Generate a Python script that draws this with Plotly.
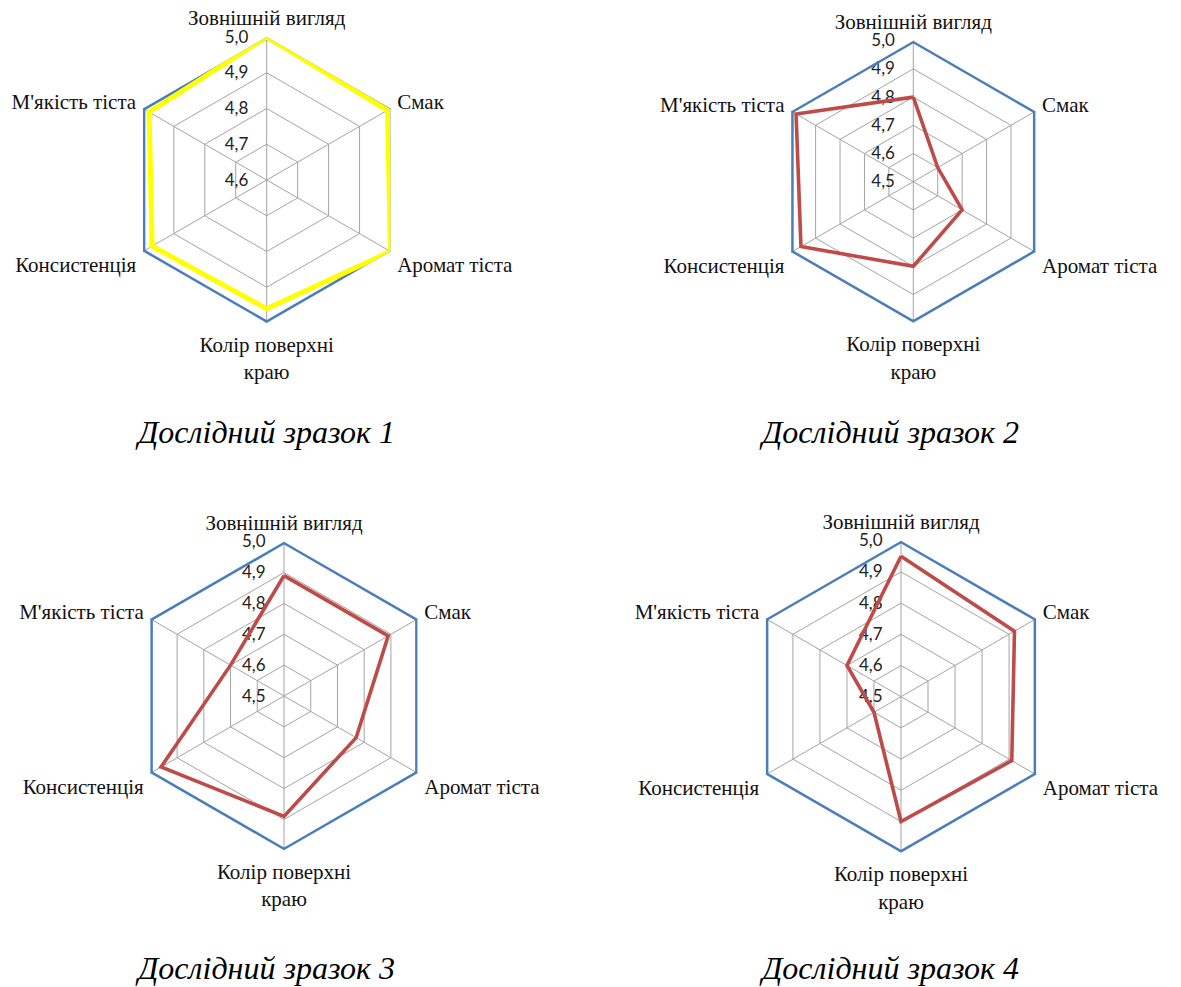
import plotly.graph_objects as go

# Organoleptic criteria (angular categories)
categories = ["Зовнішній вигляд", "Смак", "Аромат тіста",
              "Колір поверхні<br>краю", "Консистенція", "М'якість тіста"]

# Maximum score series (outer hexagon)
max_score = [5.0, 5.0, 5.0, 5.0, 5.0, 5.0]

# Scores of the experimental samples
sample1 = [5.0, 4.99, 5.0, 4.96, 4.97, 4.98]
sample2 = [4.8, 4.6, 4.7, 4.8, 4.96, 4.98]
sample3 = [4.89, 4.89, 4.77, 4.89, 4.96, 4.70]
sample4 = [4.95, 4.92, 4.91, 4.90, 4.60, 4.70]

# Radial ticks
ticks_a = [4.6, 4.7, 4.8, 4.9, 5.0]
ticks_b = [4.5, 4.6, 4.7, 4.8, 4.9, 5.0]

titles = ["Дослідний зразок 1", "Дослідний зразок 2",
          "Дослідний зразок 3", "Дослідний зразок 4"]

W, H = 1181, 987
BLUE = "#4a7ebb"
RED = "#be4b48"
YELLOW = "#ffff00"
GRID = "#a3a3a3"
CLEAR = "rgba(0,0,0,0)"

# (centre x, centre y, radius) of each panel in pixels
panels = [(266.7, 180.0, 143.0), (913.3, 181.7, 141.0),
          (284.0, 696.0, 154.3), (901.0, 696.7, 156.0)]
series = [(sample1, YELLOW, 5.0), (sample2, RED, 3.6),
          (sample3, RED, 3.6), (sample4, RED, 3.6)]
tick_sets = [ticks_a, ticks_b, ticks_b, ticks_b]

fig = go.Figure()


def closed(vals):
    return list(vals) + [vals[0]]


for i, ((cx, cy, r), (vals, color, lw), tv) in enumerate(zip(panels, series, tick_sets)):
    key = "polar" if i == 0 else f"polar{i + 1}"
    theta = closed(categories)
    fig.add_trace(go.Scatterpolar(
        r=closed(max_score), theta=theta, mode="lines",
        line=dict(color=BLUE, width=5), subplot=key, showlegend=False,
        hoverinfo="skip"))
    fig.add_trace(go.Scatterpolar(
        r=closed(vals), theta=theta, mode="lines",
        line=dict(color=color, width=lw), subplot=key, showlegend=False))

    fig.layout[key] = dict(
        domain=dict(x=[(cx - r) / W, (cx + r) / W],
                    y=[1 - (cy + r) / H, 1 - (cy - r) / H]),
        gridshape="linear",
        bgcolor=CLEAR,
        radialaxis=dict(
            range=[tv[0], 5.0], tickvals=tv,
            ticktext=[f"{v:.1f}".replace(".", ",") for v in tv],
            angle=90, side="counterclockwise", tickangle=90,
            showline=False, gridcolor=GRID, gridwidth=1,
            ticks="outside", ticklen=12, tickcolor=CLEAR,
            layer="below traces",
            tickfont=dict(family="Lato", size=17, color="#222222")),
        angularaxis=dict(
            type="category", categoryarray=categories,
            direction="clockwise", rotation=90,
            showline=False, gridcolor=GRID, gridwidth=1,
            ticks="outside", ticklen=3, tickcolor=CLEAR,
            layer="below traces",
            tickfont=dict(family="Liberation Serif", size=21, color="#111111")),
    )

# Panel captions
caption_pos = [(265, 432), (889, 432), (265, 968), (889, 968)]
for (x, y), t in zip(caption_pos, titles):
    fig.add_annotation(
        x=x / W, y=1 - y / H, xref="paper", yref="paper",
        text=f"<i>{t}</i>", showarrow=False, xanchor="center", yanchor="middle",
        font=dict(family="Liberation Serif", size=32, color="#000000"))

fig.update_layout(
    width=W, height=H,
    margin=dict(l=0, r=0, t=0, b=0),
    paper_bgcolor="white", plot_bgcolor="white",
    showlegend=False,
)

fig.write_html("out.html")
